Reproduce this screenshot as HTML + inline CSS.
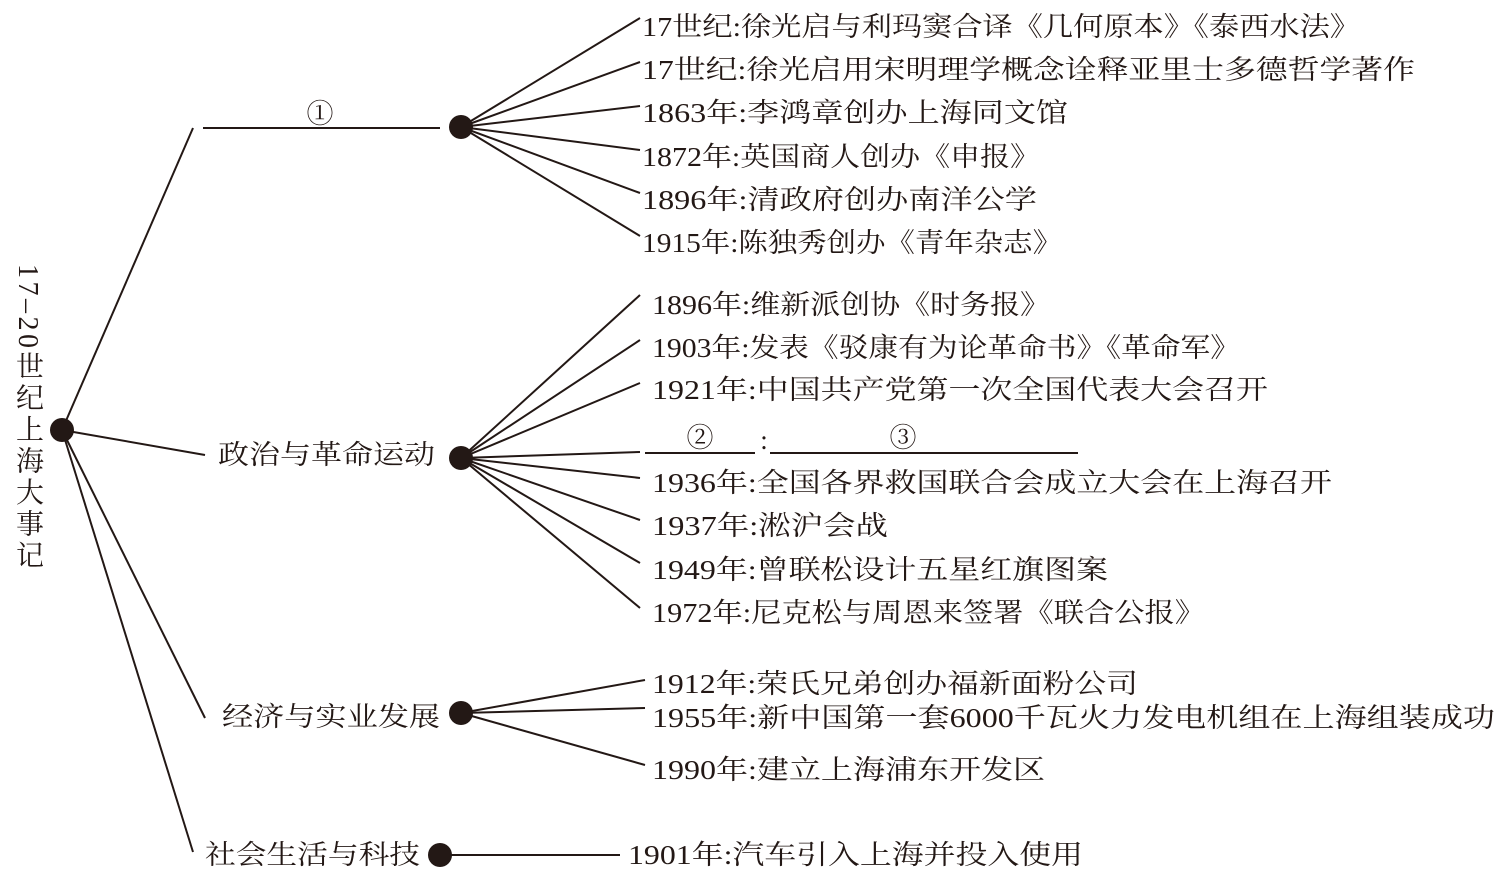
<!DOCTYPE html>
<html><head><meta charset="utf-8"><style>
html,body{margin:0;padding:0;background:#fff;}
svg{display:block}
text{font-family:"Liberation Serif","Noto Serif CJK SC",serif;font-size:27px;fill:#231815;dominant-baseline:central;}
.v{position:absolute;left:12px;top:264px;writing-mode:vertical-rl;text-orientation:mixed;font-family:"Liberation Serif","Noto Serif CJK SC",serif;font-size:28px;color:#231815;letter-spacing:3.5px;line-height:30px;}
</style></head><body>
<div style="position:relative;width:1504px;height:878px;">
<svg width="1504" height="878" viewBox="0 0 1504 878" stroke="#231815" stroke-width="2" fill="none">
<g>
<line x1="62" y1="430" x2="193" y2="128"/>
<line x1="62" y1="430" x2="205" y2="455"/>
<line x1="62" y1="430" x2="205" y2="718"/>
<line x1="62" y1="430" x2="193" y2="852"/>
<line x1="203" y1="128" x2="440" y2="128"/>
<line x1="461" y1="127" x2="640" y2="18"/>
<line x1="461" y1="127" x2="640" y2="62"/>
<line x1="461" y1="127" x2="640" y2="106"/>
<line x1="461" y1="127" x2="640" y2="150"/>
<line x1="461" y1="127" x2="640" y2="193"/>
<line x1="461" y1="127" x2="640" y2="236"/>
<line x1="461" y1="458" x2="640" y2="295"/>
<line x1="461" y1="458" x2="640" y2="340"/>
<line x1="461" y1="458" x2="640" y2="383"/>
<line x1="461" y1="458" x2="640" y2="452"/>
<line x1="461" y1="458" x2="640" y2="478"/>
<line x1="461" y1="458" x2="640" y2="520"/>
<line x1="461" y1="458" x2="640" y2="563"/>
<line x1="461" y1="458" x2="640" y2="608"/>
<line x1="461" y1="713" x2="645" y2="680"/>
<line x1="461" y1="713" x2="645" y2="708"/>
<line x1="461" y1="713" x2="645" y2="765"/>
<line x1="440" y1="855" x2="620" y2="855"/>
<line x1="645" y1="453" x2="755" y2="453"/>
<line x1="770" y1="453" x2="1078" y2="453"/>
</g>
<g fill="#231815" stroke="none">
<circle cx="62" cy="430" r="12"/>
<circle cx="461" cy="127" r="12"/>
<circle cx="461" cy="458" r="12"/>
<circle cx="461" cy="713" r="12"/>
<circle cx="440" cy="855" r="12"/>
</g>
<g stroke="none">
<text x="320" y="114" text-anchor="middle">①</text>
<text x="218" y="455" textLength="217" lengthAdjust="spacingAndGlyphs">政治与革命运动</text>
<text x="222" y="717" textLength="218" lengthAdjust="spacingAndGlyphs">经济与实业发展</text>
<text x="205" y="855" textLength="215" lengthAdjust="spacingAndGlyphs">社会生活与科技</text>
<text x="642" y="27" textLength="718" lengthAdjust="spacingAndGlyphs">17世纪:徐光启与利玛窦合译《几何原本》《泰西水法》</text>
<text x="642" y="70" textLength="773" lengthAdjust="spacingAndGlyphs">17世纪:徐光启用宋明理学概念诠释亚里士多德哲学著作</text>
<text x="642" y="113" textLength="426" lengthAdjust="spacingAndGlyphs">1863年:李鸿章创办上海同文馆</text>
<text x="642" y="157" textLength="398" lengthAdjust="spacingAndGlyphs">1872年:英国商人创办《申报》</text>
<text x="642" y="200" textLength="395" lengthAdjust="spacingAndGlyphs">1896年:清政府创办南洋公学</text>
<text x="642" y="243" textLength="420" lengthAdjust="spacingAndGlyphs">1915年:陈独秀创办《青年杂志》</text>
<text x="652" y="305" textLength="398" lengthAdjust="spacingAndGlyphs">1896年:维新派创协《时务报》</text>
<text x="652" y="348" textLength="588" lengthAdjust="spacingAndGlyphs">1903年:发表《驳康有为论革命书》《革命军》</text>
<text x="652" y="390" textLength="616" lengthAdjust="spacingAndGlyphs">1921年:中国共产党第一次全国代表大会召开</text>
<text x="700" y="438" text-anchor="middle">②</text>
<text x="764" y="440" text-anchor="middle">:</text>
<text x="903" y="438" text-anchor="middle">③</text>
<text x="652" y="483" textLength="680" lengthAdjust="spacingAndGlyphs">1936年:全国各界救国联合会成立大会在上海召开</text>
<text x="652" y="526" textLength="236" lengthAdjust="spacingAndGlyphs">1937年:淞沪会战</text>
<text x="652" y="570" textLength="456" lengthAdjust="spacingAndGlyphs">1949年:曾联松设计五星红旗图案</text>
<text x="652" y="613" textLength="553" lengthAdjust="spacingAndGlyphs">1972年:尼克松与周恩来签署《联合公报》</text>
<text x="652" y="684" textLength="486" lengthAdjust="spacingAndGlyphs">1912年:荣氏兄弟创办福新面粉公司</text>
<text x="652" y="718" textLength="843" lengthAdjust="spacingAndGlyphs">1955年:新中国第一套6000千瓦火力发电机组在上海组装成功</text>
<text x="652" y="770" textLength="393" lengthAdjust="spacingAndGlyphs">1990年:建立上海浦东开发区</text>
<text x="628" y="855" textLength="455" lengthAdjust="spacingAndGlyphs">1901年:汽车引入上海并投入使用</text>
</g>
</svg>
<div class="v">17–20世纪上海大事记</div>
</div>
</body></html>
